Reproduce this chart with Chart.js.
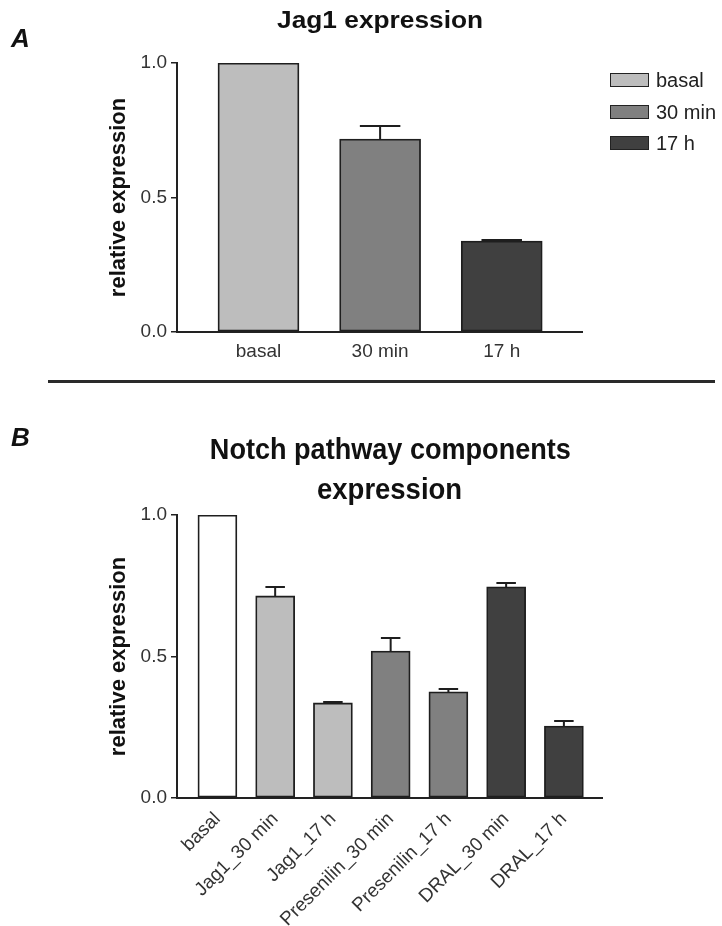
<!DOCTYPE html>
<html>
<head>
<meta charset="utf-8">
<title>Jag1 / Notch pathway expression</title>
<script src="https://cdn.jsdelivr.net/npm/chart.js@4.4.1/dist/chart.umd.min.js"></script>
<style>
  body { margin: 0; background: #fff; }
  #page { position: relative; width: 722px; height: 926px; overflow: hidden; font-family: "Liberation Sans", Arial, sans-serif; color: #111; }
  canvas { position: absolute; left: 0; }
  .panel { position: absolute; font-size: 26px; font-weight: bold; font-style: italic; line-height: 1; }
  .title { position: absolute; width: 722px; text-align: center; font-weight: bold; line-height: 1; white-space: nowrap; }
  .title span { display: inline-block; transform-origin: center; }
  .rule { position: absolute; left: 48px; top: 380px; width: 667px; height: 3px; background: #2a2a2a; }
  .legend { position: absolute; left: 610px; top: 73px; font-size: 20px; color: #222; }
  .legend .item { position: relative; height: 31.5px; line-height: 14px; white-space: nowrap; }
  .legend .swatch { display: inline-block; box-sizing: border-box; width: 39px; height: 14px; border: 1.5px solid #222; vertical-align: top; margin-right: 7px; }
</style>
</head>
<body>
<div id="page">
  <canvas id="jagChart" width="722" height="380" style="top:0"></canvas>
  <canvas id="notchChart" width="722" height="546" style="top:380px"></canvas>

  <div class="panel" style="left:11px; top:25px">A</div>
  <div class="panel" style="left:11px; top:424px">B</div>
  <div class="rule"></div>

  <!-- centred over the plot areas: 380 (A) and 390 (B) -->
  <div class="title" style="left:19px; top:8px; font-size:24px"><span data-w="206">Jag1 expression</span></div>
  <div class="title" style="left:29px; top:435px; font-size:29px"><span data-w="361">Notch pathway components</span></div>
  <div class="title" style="left:29px; top:475px; font-size:29px"><span data-w="145">expression</span></div>

  <div class="legend" id="jagLegend"></div>
</div>

<script>
// panel A: Jag1 expression
const jagCategories = ['basal', '30 min', '17 h'];
const jagValues = [1.0, 0.717, 0.338];
const jagErrors = [0, 0.049, 0.004];

// panel B: Notch pathway components
const notchCategories = ['basal', 'Jag1_30 min', 'Jag1_17 h', 'Presenilin_30 min', 'Presenilin_17 h', 'DRAL_30 min', 'DRAL_17 h'];
const notchValues = [1.0, 0.714, 0.336, 0.519, 0.375, 0.746, 0.254];
const notchErrors = [0, 0.032, 0.003, 0.046, 0.010, 0.014, 0.018];

const yTicks = [0, 0.5, 1.0];

const jagColors = ['#bdbdbd', '#808080', '#404040'];
const notchColors = ['#ffffff', '#bdbdbd', '#bdbdbd', '#808080', '#808080', '#404040', '#404040'];

Chart.defaults.font.family = '"Liberation Sans", Arial, sans-serif';
Chart.defaults.color = '#333';

// upper error bars only, cap half as wide as the bar
const errorBars = {
	id: 'errorBars',
	afterDatasetsDraw(chart, args, opts)
	{
		let ctx = chart.ctx;
		let y = chart.scales.y;
		let values = chart.data.datasets[0].data;
		ctx.save();
		ctx.strokeStyle = '#1e1e1e';
		ctx.lineWidth = 2;
		chart.getDatasetMeta(0).data.forEach(function(bar, i)
		{
			if (!opts.errors[i])
			{
				return;
			}
			let top = y.getPixelForValue(values[i].y + opts.errors[i]);
			let half = bar.width / 4;
			ctx.beginPath();
			ctx.moveTo(bar.x, bar.y);
			ctx.lineTo(bar.x, top);
			ctx.moveTo(bar.x - half, top);
			ctx.lineTo(bar.x + half, top);
			ctx.stroke();
		});
		ctx.restore();
	}
};

function makeChart(id, categories, values, errors, colors, opts)
{
	let ctx = document.getElementById(id).getContext('2d');
	return new Chart(ctx, {
		type: 'bar',
		data: {
			datasets: [{
				data: values.map(function(v, i) { return {x: i, y: v}; }),
				backgroundColor: colors,
				borderColor: '#1e1e1e',
				borderWidth: 1.8,
				borderSkipped: false,
				barThickness: opts.barWidth
			}]
		},
		plugins: [errorBars],
		options: {
			responsive: false,
			animation: false,
			events: [],
			layout: {padding: opts.padding},
			plugins: {
				legend: {display: false},
				tooltip: {enabled: false},
				errorBars: {errors: errors}
			},
			scales: {
				x: {
					type: 'linear',
					offset: false,
					min: opts.xMin,
					max: opts.xMax,
					grid: {display: false, drawTicks: false},
					border: {color: '#222', width: 2},
					afterBuildTicks: function(s) { s.ticks = categories.map(function(c, i) { return {value: i}; }); },
					afterFit: function(s) { s.height = opts.xHeight; },
					ticks: {
						autoSkip: false,
						minRotation: opts.rotation,
						maxRotation: opts.rotation,
						padding: opts.xPad,
						color: '#333',
						font: {size: 19},
						callback: function(v) { return categories[v]; }
					}
				},
				y: {
					min: 0,
					max: 1,
					grid: {drawOnChartArea: false, tickLength: 6, color: '#222', lineWidth: 1.5},
					border: {color: '#222', width: 2},
					afterBuildTicks: function(s) { s.ticks = yTicks.map(function(v) { return {value: v}; }); },
					afterFit: function(s) { s.width = 80; },
					ticks: {
						padding: 4,
						color: '#333',
						font: {size: 19},
						callback: function(v) { return v.toFixed(1); }
					},
					title: {
						display: true,
						text: 'relative expression',
						color: '#111',
						font: {size: 22, weight: 'bold'},
						padding: {top: 9, bottom: 0}
					}
				}
			}
		}
	});
}

makeChart('jagChart', jagCategories, jagValues, jagErrors, jagColors, {
	padding: {left: 97, right: 140, top: 63, bottom: 0},
	xMin: -0.67, xMax: 2.66, xHeight: 48, xPad: 8, rotation: 0, barWidth: 81
});

makeChart('notchChart', notchCategories, notchValues, notchErrors, notchColors, {
	padding: {left: 97, right: 120, top: 135, bottom: 0},
	xMin: -0.70, xMax: 6.66, xHeight: 128, xPad: 10, rotation: 45, barWidth: 39
});

// legend for panel A
let legend = document.getElementById('jagLegend');
jagCategories.forEach(function(c, i)
{
	let item = document.createElement('div');
	item.className = 'item';
	item.innerHTML = '<span class="swatch" style="background:' + jagColors[i] + '"></span>' + c;
	legend.appendChild(item);
});

// stretch/squeeze titles to the measured widths
document.querySelectorAll('.title span').forEach(function(el)
{
	let w = el.getBoundingClientRect().width;
	el.style.transform = 'scaleX(' + (parseFloat(el.dataset.w) / w) + ')';
});
</script>
</body>
</html>
